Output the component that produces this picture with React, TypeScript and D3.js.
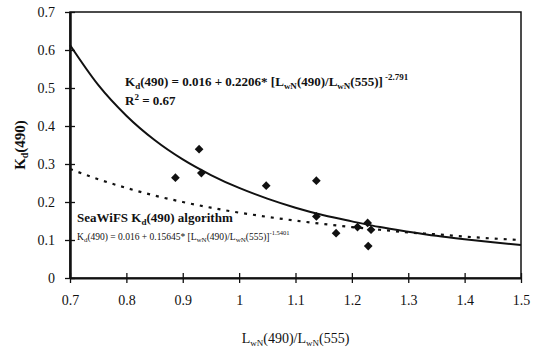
import { useEffect, useRef } from "react"
import {
  select,
  scaleLinear,
  axisBottom,
  axisLeft,
  line,
  curveMonotoneX,
  symbol,
  symbolSquare,
} from "d3"

// measured points: Kd(490) vs LwN(490)/LwN(555)
const ratioValues = [0.887, 0.929, 0.933, 1.048, 1.137, 1.137, 1.172, 1.21, 1.228, 1.234, 1.229]
const kdValues = [0.264, 0.339, 0.276, 0.243, 0.256, 0.162, 0.118, 0.134, 0.145, 0.127, 0.084]

// curves read along the x axis
const curveX = [0.7, 0.75, 0.8, 0.85, 0.9, 0.95, 1.0, 1.05, 1.1, 1.15, 1.2, 1.25, 1.3, 1.35, 1.4, 1.45, 1.5]
const fitValues = [0.613, 0.508, 0.427, 0.363, 0.312, 0.271, 0.237, 0.209, 0.185, 0.165, 0.149, 0.134, 0.122, 0.111, 0.102, 0.094, 0.087]
const seawifsValues = [0.287, 0.26, 0.237, 0.217, 0.2, 0.185, 0.172, 0.161, 0.151, 0.142, 0.134, 0.127, 0.12, 0.115, 0.109, 0.104, 0.1]

const xTicks = [0.7, 0.8, 0.9, 1, 1.1, 1.2, 1.3, 1.4, 1.5]
const yTicks = [0, 0.1, 0.2, 0.3, 0.4, 0.5, 0.6, 0.7]

const FONT = "Liberation Serif, Times New Roman, serif"

const App = () => {
  const svgRef = useRef<SVGSVGElement>(null)

  useEffect(() => {
    const left = 70, right = 521, top = 12, bottom = 278
    const xScale = scaleLinear().domain([0.7, 1.5]).range([left, right])
    const yScale = scaleLinear().domain([0, 0.7]).range([bottom, top])

    const svg = select(svgRef.current)
    svg.selectAll("*").remove()

    // frame
    svg.append("rect")
      .attr("x", left).attr("y", top)
      .attr("width", right - left).attr("height", bottom - top)
      .attr("fill", "none").attr("stroke", "#111").attr("stroke-width", 1.5)

    // x axis
    const xAxis = axisBottom(xScale).tickValues(xTicks).tickSize(0).tickPadding(17)
      .tickFormat((d) => String(d))
    const xg = svg.append("g").attr("transform", `translate(0, ${bottom})`).call(xAxis)
    xg.attr("font-family", null)
    xg.select(".domain").attr("stroke", "#111").attr("stroke-width", 2)
    xg.selectAll(".tick text").style("font-family", FONT).attr("font-size", 14).attr("fill", "#111")
    xg.selectAll(".tick").append("line")
      .attr("y1", -5).attr("y2", 5).attr("stroke", "#111").attr("stroke-width", 1.3)

    // y axis
    const yAxis = axisLeft(yScale).tickValues(yTicks).tickSize(0).tickPadding(15)
      .tickFormat((d) => String(d))
    const yg = svg.append("g").attr("transform", `translate(${left}, 0)`).call(yAxis)
    yg.attr("font-family", null)
    yg.select(".domain").attr("stroke", "#111").attr("stroke-width", 2.5)
    yg.selectAll(".tick text").style("font-family", FONT).attr("font-size", 14).attr("fill", "#111")
    yg.selectAll(".tick").append("line")
      .attr("x1", -5).attr("x2", 5).attr("stroke", "#111").attr("stroke-width", 1.3)

    // curves
    const curveLine = line<number>()
      .x((_, i) => xScale(curveX[i]))
      .y((d) => yScale(d))
      .curve(curveMonotoneX)

    svg.append("path")
      .attr("d", curveLine(seawifsValues))
      .attr("fill", "none").attr("stroke", "#111").attr("stroke-width", 2.2)
      .attr("stroke-dasharray", "3,6")

    svg.append("path")
      .attr("d", curveLine(fitValues))
      .attr("fill", "none").attr("stroke", "#111").attr("stroke-width", 2)

    // points
    const diamond = symbol().type(symbolSquare).size(38)
    svg.append("g").selectAll("path")
      .data(kdValues)
      .enter()
      .append("path")
      .attr("d", diamond() as string)
      .attr("transform", (d, i) => `translate(${xScale(ratioValues[i])}, ${yScale(d)}) rotate(45)`)
      .attr("fill", "#111")

    const label = (x: number, y: number, size: number, bold: boolean) =>
      svg.append("text")
        .attr("x", x).attr("y", y)
        .style("font-family", FONT)
        .attr("font-size", size)
        .attr("font-weight", bold ? "bold" : "normal")
        .attr("fill", "#111")

    // y title
    const yt = svg.append("text")
      .attr("transform", `translate(25, ${(top + bottom) / 2}) rotate(-90)`)
      .attr("text-anchor", "middle")
      .style("font-family", FONT).attr("font-size", 15).attr("font-weight", "bold").attr("fill", "#111")
    yt.append("tspan").text("K")
    yt.append("tspan").attr("font-size", 10).attr("dy", 3).text("d")
    yt.append("tspan").attr("dy", -3).text("(490)")

    // x title
    const xt = svg.append("text")
      .attr("x", (left + right) / 2).attr("y", 343)
      .attr("text-anchor", "middle")
      .style("font-family", FONT).attr("font-size", 14).attr("fill", "#111")
    xt.append("tspan").text("L")
    xt.append("tspan").attr("font-size", 9).attr("dy", 3).text("wN")
    xt.append("tspan").attr("dy", -3).text("(490)/L")
    xt.append("tspan").attr("font-size", 9).attr("dy", 3).text("wN")
    xt.append("tspan").attr("dy", -3).text("(555)")

    // fit equation
    const eq = label(125, 86, 13, true)
    eq.append("tspan").text("K")
    eq.append("tspan").attr("font-size", 9).attr("dy", 3).text("d")
    eq.append("tspan").attr("dy", -3).text("(490) = 0.016 + 0.2206* [L")
    eq.append("tspan").attr("font-size", 9).attr("dy", 3).text("wN")
    eq.append("tspan").attr("dy", -3).text("(490)/L")
    eq.append("tspan").attr("font-size", 9).attr("dy", 3).text("wN")
    eq.append("tspan").attr("dy", -3).text("(555)]")
    eq.append("tspan").attr("font-size", 9).attr("dy", -6).text(" -2.791")

    const r2 = label(125, 105, 13, true)
    r2.append("tspan").text("R")
    r2.append("tspan").attr("font-size", 9).attr("dy", -5).text("2")
    r2.append("tspan").attr("dy", 5).text(" = 0.67")

    // SeaWiFS label
    const sw = label(77, 222, 13, true)
    sw.append("tspan").text("SeaWiFS K")
    sw.append("tspan").attr("font-size", 9).attr("dy", 3).text("d")
    sw.append("tspan").attr("dy", -3).text("(490) algorithm")

    const sweq = label(77, 240, 9.5, false)
    sweq.append("tspan").text("K")
    sweq.append("tspan").attr("font-size", 7).attr("dy", 2).text("d")
    sweq.append("tspan").attr("dy", -2).text("(490) = 0.016 + 0.15645* [L")
    sweq.append("tspan").attr("font-size", 7).attr("dy", 2).text("wN")
    sweq.append("tspan").attr("dy", -2).text("(490)/L")
    sweq.append("tspan").attr("font-size", 7).attr("dy", 2).text("wN")
    sweq.append("tspan").attr("dy", -2).text("(555)]")
    sweq.append("tspan").attr("font-size", 6.5).attr("dy", -5).text("-1.5401")
  }, [])

  return (
    <svg
      ref={svgRef}
      width={540}
      height={348}
      viewBox="0 0 540 348"
      style={{ position: "absolute", left: 0, top: 0, background: "#fff" }}
    />
  )
}

export default App
